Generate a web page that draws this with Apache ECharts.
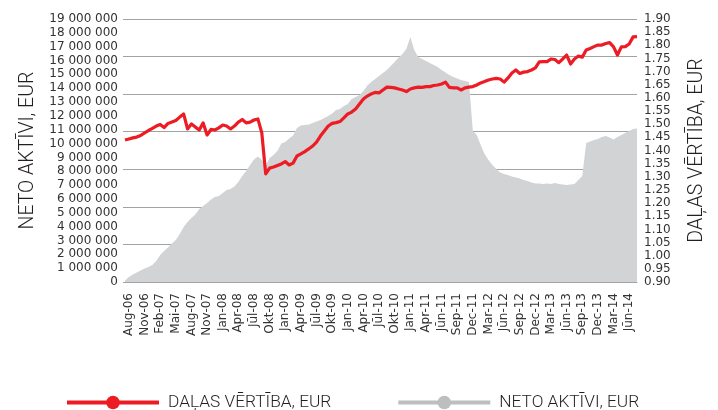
<!DOCTYPE html>
<html>
<head>
<meta charset="utf-8">
<script src="https://cdn.jsdelivr.net/npm/echarts@6/dist/echarts.min.js"></script>
<style>
html,body{margin:0;padding:0;background:#fff;}
#chart{width:718px;height:410px;}
</style>
</head>
<body>
<div id="chart"></div>
<script>
// Tick labels shown on the time axis (every 4th point starting at index 1)
const tickLabels = ['Aug-06','Nov-06','Feb-07','Mai-07','Aug-07','Nov-07','Jan-08','Apr-08','Jūl-08','Okt-08',
  'Jan-09','Apr-09','Jūl-09','Okt-09','Jan-10','Apr-10','Jūl-10','Okt-10','Jan-11','Apr-11',
  'Jūn-11','Sep-11','Dec-11','Mar-12','Jūn-12','Sep-12','Dec-12','Mar-13','Jūn-13','Sep-13',
  'Dec-13','Mar-14','Jūn-14'];

// Net assets, EUR (left axis)
const netAssets = [100000, 360000, 540000, 690000, 830000, 980000, 1080000, 1230000, 1520000, 1950000,
  2240000, 2490000, 2780000, 3030000, 3470000, 3970000, 4340000, 4620000, 4880000, 5270000,
  5490000, 5710000, 5960000, 6140000, 6210000, 6430000, 6650000, 6720000, 6900000, 7230000,
  7660000, 8020000, 8450000, 8850000, 9070000, 8820000, 8380000, 8960000, 9180000, 9470000,
  10010000, 10120000, 10370000, 10590000, 11130000, 11310000, 11340000, 11380000, 11490000, 11600000,
  11710000, 11850000, 11990000, 12170000, 12430000, 12500000, 12720000, 12860000, 13220000, 13370000,
  13510000, 13800000, 14200000, 14450000, 14670000, 14880000, 15100000, 15320000, 15610000, 15900000,
  16220000, 16470000, 16840000, 17700000, 16760000, 16260000, 16110000, 15970000, 15820000, 15680000,
  15530000, 15320000, 15140000, 14960000, 14810000, 14700000, 14600000, 14520000, 14450000, 10910000,
  10620000, 9900000, 9250000, 8820000, 8450000, 8160000, 7910000, 7800000, 7730000, 7620000,
  7550000, 7480000, 7370000, 7300000, 7190000, 7120000, 7120000, 7080000, 7120000, 7080000,
  7150000, 7080000, 7040000, 7010000, 7040000, 7080000, 7370000, 7660000, 10040000, 10150000,
  10260000, 10330000, 10480000, 10550000, 10440000, 10300000, 10480000, 10620000, 10770000, 10910000,
  11050000, 11090000];

// Unit value, EUR (right axis)
const unitValue = [1.440, 1.444, 1.448, 1.451, 1.457, 1.467, 1.476, 1.484, 1.493, 1.499,
  1.487, 1.503, 1.508, 1.514, 1.527, 1.539, 1.482, 1.501, 1.489, 1.478,
  1.505, 1.459, 1.480, 1.478, 1.486, 1.497, 1.493, 1.482, 1.493, 1.508,
  1.518, 1.505, 1.508, 1.516, 1.520, 1.467, 1.311, 1.333, 1.337, 1.343,
  1.349, 1.358, 1.345, 1.352, 1.379, 1.387, 1.396, 1.406, 1.417, 1.432,
  1.455, 1.474, 1.493, 1.503, 1.506, 1.510, 1.524, 1.539, 1.546, 1.558,
  1.577, 1.596, 1.607, 1.615, 1.621, 1.619, 1.630, 1.641, 1.640, 1.638,
  1.634, 1.630, 1.624, 1.634, 1.638, 1.641, 1.640, 1.643, 1.643, 1.647,
  1.649, 1.653, 1.660, 1.640, 1.638, 1.638, 1.630, 1.638, 1.641, 1.643,
  1.649, 1.657, 1.662, 1.668, 1.672, 1.674, 1.672, 1.660, 1.676, 1.695,
  1.706, 1.693, 1.698, 1.700, 1.706, 1.714, 1.737, 1.738, 1.738, 1.748,
  1.746, 1.734, 1.748, 1.763, 1.729, 1.748, 1.759, 1.755, 1.782, 1.788,
  1.795, 1.801, 1.801, 1.807, 1.810, 1.794, 1.763, 1.794, 1.795, 1.805,
  1.832, 1.833];

const seriesNames = ['DAĻAS VĒRTĪBA, EUR', 'NETO AKTĪVI, EUR'];

// categories: a tick label every 4th point, other points get unique placeholder names
const categories = netAssets.map(function (v, i) {
  const k = (i - 1) / 4;
  if (i >= 1 && (i - 1) % 4 === 0 && k < tickLabels.length) return tickLabels[k];
  return 'p' + i;
});

const narrow = "Roboto, 'Liberation Sans', sans-serif";
const tickFont = "'DejaVu Sans', sans-serif";
const gridColor = '#a3a3a3';

const chart = echarts.init(document.getElementById('chart'), null, {renderer: 'canvas'});
chart.setOption({
  animation: false,
  backgroundColor: '#ffffff',
  grid: {left: 125, right: 81, top: 19, bottom: 128, containLabel: false},
  legend: {
    left: 60, top: 389,
    itemWidth: 92, itemHeight: 17, itemGap: 65,
    textStyle: {fontFamily: narrow, fontSize: 17.3, fontWeight: 300, color: '#231f20', padding: [0, 0, 0, 4]},
    data: [
      {name: seriesNames[0], lineStyle: {width: 4, color: '#ed1c24'}},
      {name: seriesNames[1], itemStyle: {color: '#bcbec0'}, lineStyle: {width: 4, color: '#bcbec0', opacity: 1}}
    ]
  },
  xAxis: {
    type: 'category',
    data: categories,
    boundaryGap: false,
    axisLine: {show: true, lineStyle: {color: gridColor, width: 1}},
    axisTick: {show: false},
    splitLine: {show: false},
    axisLabel: {
      rotate: 90, margin: 11,
      fontFamily: tickFont, fontSize: 12, color: '#333',
      interval: function (idx, val) { return tickLabels.indexOf(val) >= 0; },
      formatter: function (val) { return tickLabels.indexOf(val) >= 0 ? val : ''; }
    }
  },
  yAxis: [
    {
      type: 'value', position: 'left', min: 0, max: 19000000, interval: 1000000,
      name: seriesNames[1], nameLocation: 'middle', nameRotate: 90, nameGap: 80,
      nameTextStyle: {fontFamily: narrow, fontSize: 19.5, fontWeight: 300, color: '#231f20'},
      axisLine: {show: false}, axisTick: {show: false}, splitLine: {show: false},
      axisLabel: {
        margin: 7, fontFamily: tickFont, fontSize: 12, color: '#333',
        formatter: function (v) { return String(Math.round(v)).replace(/\B(?=(\d{3})+(?!\d))/g, ' '); }
      }
    },
    {
      type: 'value', position: 'right', min: 0.9, max: 1.9, interval: 0.05,
      name: seriesNames[0], nameLocation: 'middle', nameRotate: 90, nameGap: 50,
      nameTextStyle: {fontFamily: narrow, fontSize: 19.5, fontWeight: 300, color: '#231f20'},
      axisLine: {show: false}, axisTick: {show: false}, splitLine: {show: false},
      axisLabel: {
        margin: 7, fontFamily: tickFont, fontSize: 12, color: '#333',
        formatter: function (v) { return v.toFixed(2); }
      }
    },
    {
      type: 'value', position: 'left', min: 0, max: 7, interval: 1, show: true,
      axisLine: {show: false}, axisLabel: {show: false},
      axisTick: {show: true, length: 2, lineStyle: {color: gridColor}},
      splitLine: {show: true, lineStyle: {color: gridColor, width: 1.2}}
    }
  ],
  series: [
    {
      name: seriesNames[1], type: 'line', yAxisIndex: 0,
      data: netAssets,
      showSymbol: false, symbol: 'circle',
      itemStyle: {color: '#bcbec0'},
      lineStyle: {width: 0},
      areaStyle: {color: '#d1d3d4', opacity: 1},
      z: 2
    },
    {
      name: seriesNames[0], type: 'line', yAxisIndex: 1,
      data: unitValue,
      showSymbol: false, symbol: 'circle',
      itemStyle: {color: '#ed1c24'},
      lineStyle: {width: 3.2, color: '#ed1c24', join: 'round'},
      z: 3
    }
  ]
});
</script>
</body>
</html>
